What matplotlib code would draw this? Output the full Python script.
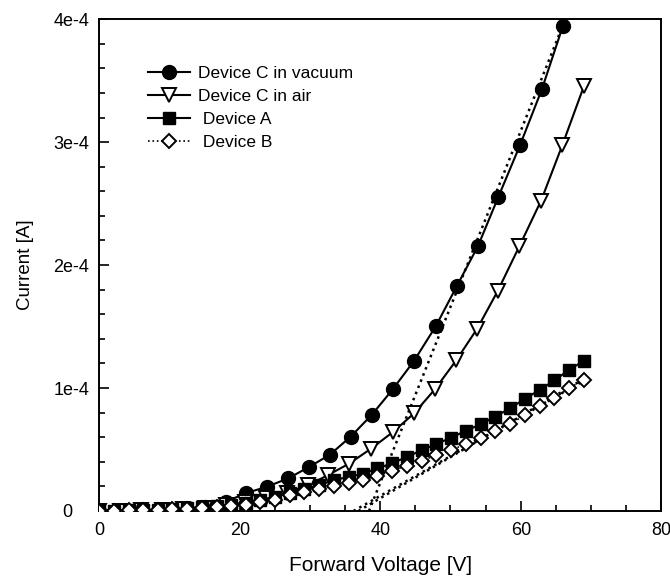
import numpy as np
import matplotlib
matplotlib.use("Agg")
import matplotlib.pyplot as plt
import matplotlib.transforms as mtransforms
from matplotlib.ticker import MultipleLocator

plt.rcParams['font.family'] = ['Liberation Sans', 'DejaVu Sans']

# Device C in vacuum (filled circles)
v_cvac = [0, 3, 6, 9, 12, 15, 18, 20.9, 23.9, 26.9, 29.8, 32.8, 35.8, 38.8,
          41.8, 44.8, 47.9, 50.9, 53.9, 56.8, 59.9, 63.0, 66.0]
i_cvac = [0, 0.3, 0.7, 1.2, 2.0, 3.5, 7.5, 14.5, 19.8, 26.5, 35.6, 45.6, 60.5,
          78.2, 99.1, 122.0, 150.2, 182.9, 215.3, 255.3, 297.6, 342.9, 394.5]

# Device C in air (open triangles)
v_cair = [0, 3, 6, 9, 12, 15, 18, 20.8, 23.7, 26.7, 29.7, 32.6, 35.6, 38.7,
          41.8, 44.8, 47.8, 50.8, 53.8, 56.7, 59.8, 62.9, 65.9, 69.0]
i_cair = [0, 0.2, 0.5, 0.9, 1.5, 2.5, 4.5, 7.0, 10.5, 15.0, 20.8, 29.3, 38.6,
          50.7, 64.2, 79.3, 99.1, 122.4, 148.3, 178.7, 215.3, 252.5, 297.3, 345.7]

# Device A (filled squares) and Device B (open diamonds)
v_ab = [0, 2.1, 4.2, 6.3, 8.4, 10.4, 12.5, 14.6, 16.7, 18.8, 20.9, 22.9, 25.0,
        27.1, 29.2, 31.3, 33.4, 35.5, 37.5, 39.6, 41.7, 43.8, 45.9, 48.0, 50.1,
        52.2, 54.3, 56.4, 58.5, 60.6, 62.7, 64.8, 66.9, 69.0]
i_a = [0, 0.2, 0.4, 0.7, 1.0, 1.5, 2.1, 2.9, 3.9, 5.0, 6.8, 9.0, 11.5, 14.5,
       17.5, 21.0, 25.0, 27.8, 30.2, 34.6, 38.9, 43.9, 49.5, 54.5, 59.7, 65.2,
       70.6, 76.8, 83.7, 91.2, 98.6, 106.2, 114.9, 122.2]
i_b = [0, 0.2, 0.4, 0.6, 0.9, 1.3, 1.8, 2.4, 3.2, 4.0, 5.0, 7.2, 9.2, 12.8,
       15.3, 17.8, 20.4, 22.8, 25.3, 28.8, 32.8, 36.8, 41.0, 45.3, 49.8, 54.3,
       59.7, 65.2, 70.8, 78.0, 85.0, 91.8, 100.0, 106.7]

# dotted linear fits (start, end)
fit_c_v = [38.4, 66.0]
fit_c_i = [0, 395.0]
fit_b1_v = [36.2, 69.3]
fit_b1_i = [0, 107.0]
fit_b2_v = [36.9, 69.3]
fit_b2_i = [0, 108.5]

ytick_vals = [0, 1e-4, 2e-4, 3e-4, 4e-4]
ytick_text = ['0', '1e-4', '2e-4', '3e-4', '4e-4']

scale = 1e-6

fig = plt.figure(figsize=(6.7, 5.81), dpi=100)
ax = fig.add_axes([0.148, 0.1205, 0.839, 0.8465])

ax.plot(fit_c_v, np.array(fit_c_i) * scale, ':', color='k', lw=1.8, zorder=2)
ax.plot(fit_b1_v, np.array(fit_b1_i) * scale, ':', color='k', lw=1.8, zorder=2)
ax.plot(fit_b2_v, np.array(fit_b2_i) * scale, ':', color='k', lw=1.8, zorder=2)

ax.plot(v_cvac, np.array(i_cvac) * scale, '-o', color='k', mfc='k', ms=10,
        lw=1.5, label='Device C in vacuum', zorder=3)
ax.plot(v_cair, np.array(i_cair) * scale, '-v', color='k', mfc='white', ms=10.5,
        mew=1.4, lw=1.5, label='Device C in air', zorder=3)
ax.plot(v_ab, np.array(i_a) * scale, '-s', color='k', mfc='k', ms=8.5,
        lw=1.5, label=' Device A', zorder=4)
ax.plot(v_ab, np.array(i_b) * scale, ':D', color='k', mfc='white', ms=7.5,
        mew=1.4, lw=1.2, label=' Device B', zorder=5)

ax.set_xlim(0, 80)
ax.set_ylim(0, 4e-4)
ax.xaxis.set_major_locator(MultipleLocator(20))
ax.xaxis.set_minor_locator(MultipleLocator(5))
ax.yaxis.set_minor_locator(MultipleLocator(2e-5))
ax.set_yticks(ytick_vals)
ax.set_yticklabels(ytick_text)
ax.tick_params(which='both', direction='in', labelsize=13, width=1.2)
ax.tick_params(which='major', length=7)
ax.tick_params(axis='x', which='major', pad=8)
ax.tick_params(axis='y', which='major', pad=7)
ax.tick_params(which='minor', length=4)
for s in ax.spines.values():
    s.set_linewidth(1.4)

# the "0" on the y axis sits further out than the others
zero_lbl = ax.get_yticklabels()[0]
zero_lbl.set_transform(zero_lbl.get_transform() +
                       mtransforms.ScaledTranslation(-0.17, 0, fig.dpi_scale_trans))

ax.set_xlabel('Forward Voltage [V]', fontsize=15, labelpad=12)
ax.set_ylabel('Current [A]', fontsize=13.5, labelpad=14)

ax.legend(loc='upper left', bbox_to_anchor=(0.065, 0.93), frameon=False,
          fontsize=12.5, handlelength=2.4, handletextpad=0.46,
          labelspacing=0.45, borderpad=0.2)

fig.savefig('out.png', dpi=100)
